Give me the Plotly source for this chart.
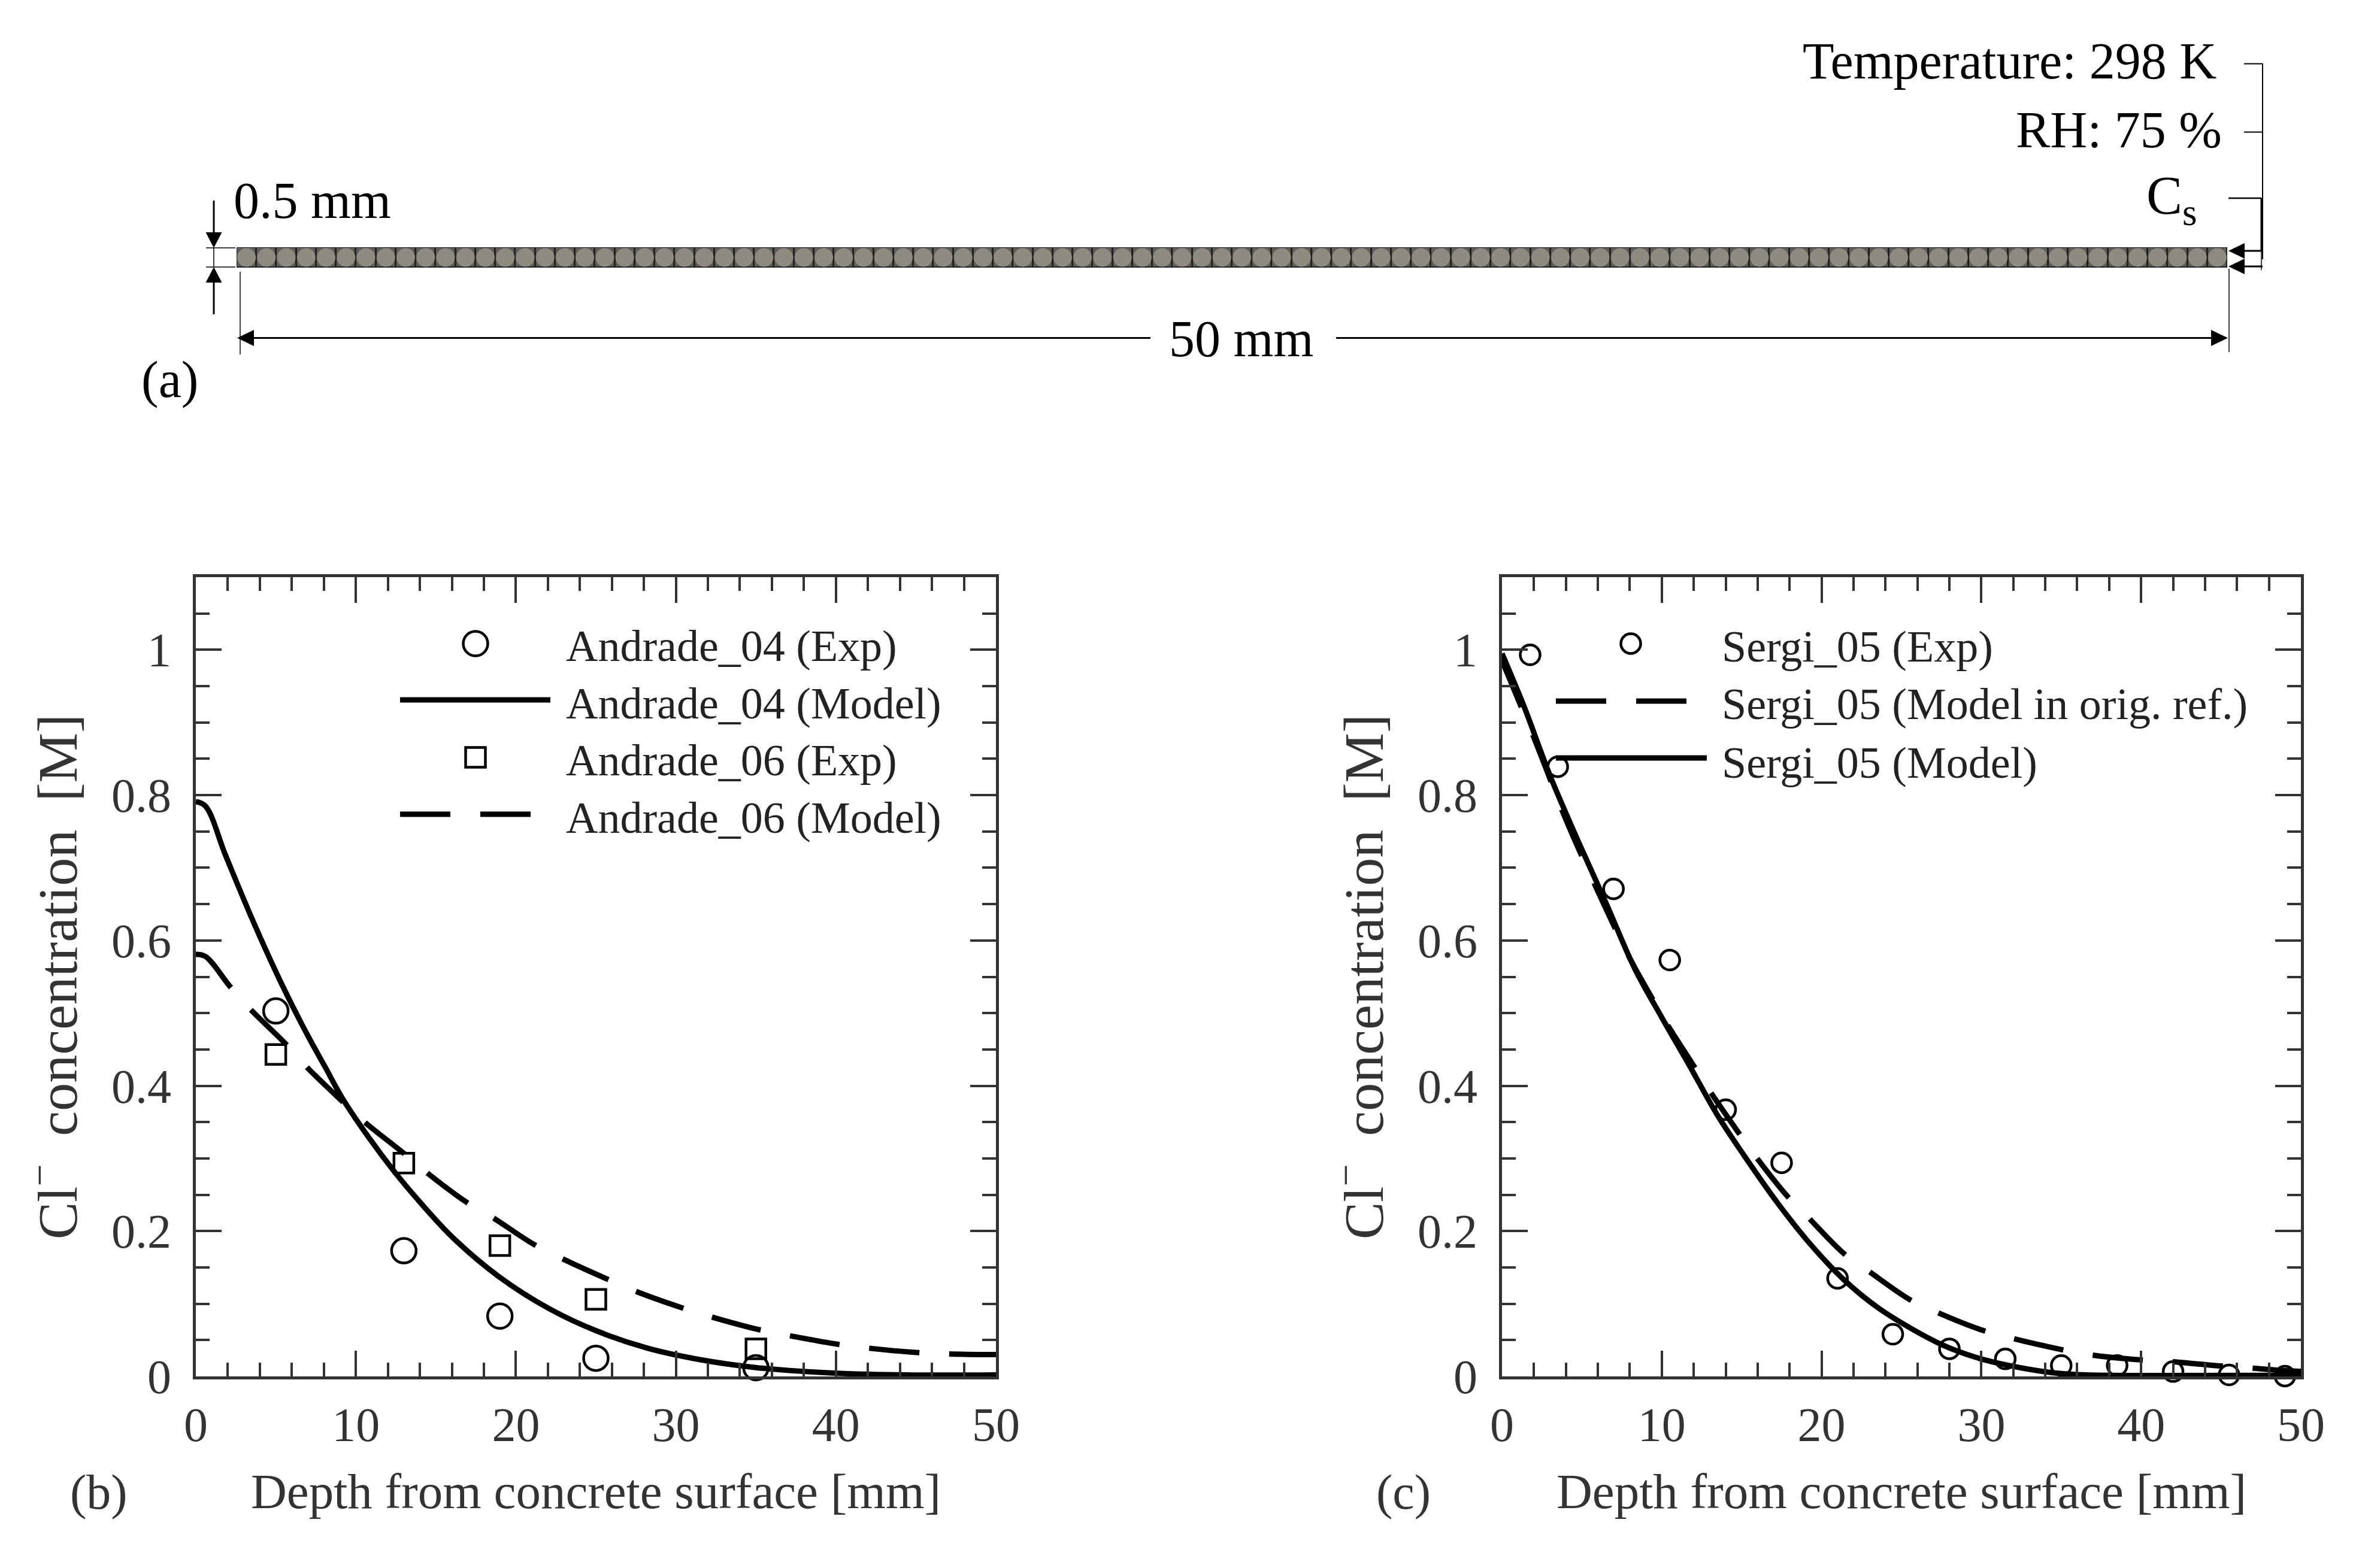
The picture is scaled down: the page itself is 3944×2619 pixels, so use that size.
import plotly.graph_objects as go

W, H = 3944, 2619
FONT = "Liberation Serif"
AX = "#333333"

# ---------- data ----------
cell_centres = [0.25 + 0.5 * i for i in range(100)]
cell_heights = [1] * 100

b_circle_x = [5, 13, 19, 25, 35]
b_circle_y = [0.503, 0.173, 0.083, 0.025, 0.012]
b_square_x = [5, 13, 19, 25, 35]
b_square_y = [0.443, 0.2935, 0.18, 0.106, 0.038]
b_solid_x = [0, 0.6, 1.86, 3.47, 5.3, 6.9, 8.1, 9.18, 10.8, 12.4, 14.0, 16.06, 18.9, 22.1, 25, 28.2, 31.4, 35.07, 39.9, 44.4, 50]
b_solid_y = [0.791, 0.785, 0.717, 0.632, 0.543, 0.473, 0.425, 0.382, 0.329, 0.282, 0.24, 0.191, 0.138, 0.093, 0.063, 0.039, 0.0235, 0.012, 0.0045, 0.002, 0.002]
b_dash_x = [0, 0.6, 2.16, 3.47, 5.6, 6.96, 9.18, 10.6, 13, 14.4, 16.9, 18.6, 21.1, 22.9, 25.7, 27.5, 30.3, 32.2, 35.07, 37.1, 39.9, 42, 45, 47, 50]
b_dash_y = [0.581, 0.578, 0.536, 0.504, 0.458, 0.425, 0.378, 0.349, 0.307, 0.281, 0.24, 0.218, 0.182, 0.162, 0.134, 0.117, 0.095, 0.082, 0.065, 0.056, 0.045, 0.039, 0.033, 0.031, 0.03]

c_circle_x = [1.76, 3.49, 6.98, 10.5, 14, 17.5, 21, 24.46, 28, 31.5, 35, 38.5, 42, 45.5, 49]
c_circle_y = [0.993, 0.839, 0.671, 0.573, 0.367, 0.294, 0.135, 0.058, 0.038, 0.024, 0.015, 0.015, 0.0067, 0.002, 0.0005]
c_solid_x = [0, 1.38, 3.04, 4.84, 6.56, 8.29, 10.0, 11.74, 13.47, 15.2, 17.27, 19.3, 21.4, 23.5, 25.6, 27.6, 29.7, 31.8, 34.5, 36.6, 40.8, 50]
c_solid_y = [0.995, 0.922, 0.825, 0.733, 0.649, 0.562, 0.494, 0.4275, 0.36, 0.3025, 0.238, 0.182, 0.133, 0.095, 0.066, 0.043, 0.026, 0.0147, 0.005, 0.002, 0.0013, 0.0015]
c_dash_x = [0, 1.04, 2.07, 3.1, 3.8, 5.0, 7.94, 9.33, 10.3, 12.0, 13.06, 14.85, 15.9, 17.9, 19.2, 21.4, 23, 25.5, 27.3, 30, 32, 35, 36.9, 39.8, 41.8, 44.8, 46.8, 49, 50]
c_dash_y = [0.985, 0.93, 0.875, 0.817, 0.777, 0.716, 0.578, 0.523, 0.486, 0.4275, 0.391, 0.334, 0.302, 0.247, 0.218, 0.169, 0.144, 0.106, 0.0875, 0.064, 0.052, 0.037, 0.0295, 0.023, 0.0205, 0.0147, 0.0116, 0.008, 0.007]

x_ticks = [0, 10, 20, 30, 40, 50]
y_ticks = [0, 0.2, 0.4, 0.6, 0.8, 1]
y_tick_text = ["0", "0.2", "0.4", "0.6", "0.8", "1"]

b_names = ["Andrade_04 (Exp)", "Andrade_04 (Model)", "Andrade_06 (Exp)", "Andrade_06 (Model)"]
c_names = ["Sergi_05 (Exp)", "Sergi_05 (Model in orig. ref.)", "Sergi_05 (Model)"]

# ---------- helpers ----------
def px(x): return x / W
def py(y): return 1 - y / H

fig = go.Figure()

# (a) the discretised strip
fig.add_trace(go.Bar(x=cell_centres, y=cell_heights, width=0.5, xaxis="x3", yaxis="y3", showlegend=False,
                     marker=dict(color="#5f5d57", line=dict(color="#222222", width=3))))
fig.add_trace(go.Scatter(x=cell_centres, y=[0.5] * 100, mode="markers", xaxis="x3", yaxis="y3", showlegend=False,
                         marker=dict(symbol="circle", size=31, color="#8e8b80")))

LW = 9
DASH = "84px,50px"
def line(x, y, name, dash, xa, ya):
    return go.Scatter(x=x, y=y, name=name, mode="lines", xaxis=xa, yaxis=ya, cliponaxis=False, showlegend=False,
                      line=dict(color="black", width=LW, dash=dash, shape="spline", smoothing=1.0))
def marks(x, y, name, sym, size, xa, ya):
    return go.Scatter(x=x, y=y, name=name, mode="markers", xaxis=xa, yaxis=ya, cliponaxis=False, showlegend=False,
                      marker=dict(symbol=sym, size=size, color="rgba(0,0,0,0)", line=dict(color="black", width=4.5)))

# (b)
fig.add_trace(marks(b_circle_x, b_circle_y, b_names[0], "circle", 41, "x", "y"))
fig.add_trace(line(b_solid_x, b_solid_y, b_names[1], "solid", "x", "y"))
fig.add_trace(marks(b_square_x, b_square_y, b_names[2], "square", 33, "x", "y"))
fig.add_trace(line(b_dash_x, b_dash_y, b_names[3], DASH, "x", "y"))
# (c)
fig.add_trace(marks(c_circle_x, c_circle_y, c_names[0], "circle", 33, "x2", "y2"))
fig.add_trace(line(c_dash_x, c_dash_y, c_names[1], DASH, "x2", "y2"))
fig.add_trace(line(c_solid_x, c_solid_y, c_names[2], "solid", "x2", "y2"))

def xaxis(x0, x1):
    return dict(domain=[px(x0), px(x1)], range=[0, 50], tickvals=x_ticks, ticks="inside", ticklen=43, tickwidth=4,
                tickcolor=AX, showline=True, linecolor=AX, linewidth=5, mirror="ticks", showgrid=False, zeroline=False,
                automargin=False, ticklabelstandoff=7, tickfont=dict(family=FONT, size=80, color=AX),
                minor=dict(dtick=2, tick0=0, ticks="inside", ticklen=23, tickwidth=4, tickcolor=AX, showgrid=False),
                title=dict(text="Depth from concrete surface [mm]", font=dict(family=FONT, size=83, color=AX), standoff=39))
def yaxis(x_anchor):
    return dict(domain=[py(2299), py(964)], range=[0, 1.1], tickvals=y_ticks, ticktext=y_tick_text, ticks="inside",
                ticklen=43, tickwidth=4, tickcolor=AX, showline=True, linecolor=AX, linewidth=5, mirror="ticks",
                showgrid=False, zeroline=False, anchor=x_anchor, automargin=False, ticklabelstandoff=20,
                tickfont=dict(family=FONT, size=80, color=AX),
                minor=dict(dtick=0.05, tick0=0, ticks="inside", ticklen=23, tickwidth=4, tickcolor=AX, showgrid=False),
                title=dict(text="Cl<sup>\u2212</sup>\u00a0\u00a0concentration\u00a0\u00a0[M]",
                           font=dict(family=FONT, size=94, color=AX), standoff=28))

layout = dict(width=W, height=H, autosize=False, margin=dict(l=0, r=0, t=0, b=0), paper_bgcolor="white", plot_bgcolor="rgba(0,0,0,0)",
              font=dict(family=FONT, color="black"), barmode="overlay", bargap=0, showlegend=False)
layout["xaxis"] = dict(xaxis(327, 1663), anchor="y")
layout["yaxis"] = yaxis("x")
layout["xaxis2"] = dict(xaxis(2508, 3842), anchor="y2")
layout["yaxis2"] = yaxis("x2")
layout["xaxis3"] = dict(domain=[px(395), px(3719)], range=[0, 50], visible=False, anchor="y3", automargin=False)
layout["yaxis3"] = dict(domain=[py(447), py(413)], range=[0, 1], visible=False, anchor="x3", automargin=False)

# ---------- annotation furniture ----------
shapes = []
def seg(x0, y0, x1, y1, w=3, dash="solid"):
    shapes.append(dict(type="line", xref="paper", yref="paper", x0=px(x0), y0=py(y0), x1=px(x1), y1=py(y1),
                       line=dict(color="black", width=w, dash=dash)))
def tri(p):
    d = "M " + " L ".join(f"{px(a):.6f} {py(b):.6f}" for a, b in p) + " Z"
    shapes.append(dict(type="path", xref="paper", yref="paper", path=d, fillcolor="black", line=dict(width=0)))
def key(kind, cx, cy, d):
    shapes.append(dict(type=kind, xref="paper", yref="paper", x0=px(cx - d / 2), x1=px(cx + d / 2),
                       y0=py(cy + d / 2), y1=py(cy - d / 2), line=dict(color="black", width=4.5)))

# thickness dimension
seg(357, 335, 357, 395); tri([(357, 414), (343.5, 388), (370.5, 388)])
seg(357, 465, 357, 525); tri([(357, 446), (343.5, 472), (370.5, 472)])
seg(344, 414, 393, 414, 1.5); seg(344, 446, 393, 446, 1.5); seg(357, 414, 357, 446, 1.5)
# length dimension
seg(401, 454, 401, 592, 1.5); seg(3722, 449, 3722, 588, 1.5)
seg(415, 564.5, 1921, 564.5); tri([(396, 564.5), (424, 551), (424, 578)])
seg(2231, 564.5, 3700, 564.5); tri([(3720, 564.5), (3692, 551), (3692, 578)])
# boundary bracket
seg(3747, 106.5, 3778, 106.5, 2); seg(3747, 220.6, 3778, 220.6, 2); seg(3721, 331, 3776, 331, 2.5)
seg(3778, 106, 3778, 433, 2); seg(3776, 331, 3776, 419, 3); seg(3776, 419, 3776, 451, 1.5)
seg(3740, 419, 3776, 419); tri([(3721, 419), (3748, 406), (3748, 432)])
seg(3740, 445, 3778, 445); tri([(3721, 445), (3748, 432), (3748, 458)])

# legend keys, panel (b)
key("circle", 794, 1075, 41)
seg(668, 1169, 919, 1169, LW)
key("rect", 794, 1265, 33)
seg(668, 1360, 919, 1360, LW, DASH)
# legend keys, panel (c)
key("circle", 2723, 1075, 33)
seg(2598, 1171, 2850, 1171, LW, DASH)
seg(2598, 1266, 2850, 1266, LW)
layout["shapes"] = shapes

def note(text, x, y, anchor="left", size=86, color="black"):
    return dict(text=text, x=px(x), y=py(y), xref="paper", yref="paper", xanchor=anchor, yanchor="middle",
                showarrow=False, font=dict(family=FONT, size=size, color=color))
layout["annotations"] = [
    note("Temperature: 298 K", 3703, 102, "right"),
    note("RH: 75 %", 3712, 217, "right"),
    note("C<sub>s</sub>", 3582, 333, "left", 90),
    note("0.5 mm", 388, 335, "left"),
    note("50 mm", 2072, 566, "center"),
    note("(a)", 283, 634, "center"),
    note("(b)", 165, 2492, "center", 82, AX),
    note("(c)", 2343, 2492, "center", 82, AX),
]
for name, yy in zip(b_names, [1079, 1175, 1270, 1366]):
    layout["annotations"].append(note(name, 943, yy, "left", 74, "#222222"))
for name, yy in zip(c_names, [1080, 1176, 1274]):
    layout["annotations"].append(note(name, 2873, yy, "left", 74, "#222222"))

fig.update_layout(**layout)
fig.write_html("out.html", config={"displayModeBar": False}, post_script="document.body.style.margin='0';")
